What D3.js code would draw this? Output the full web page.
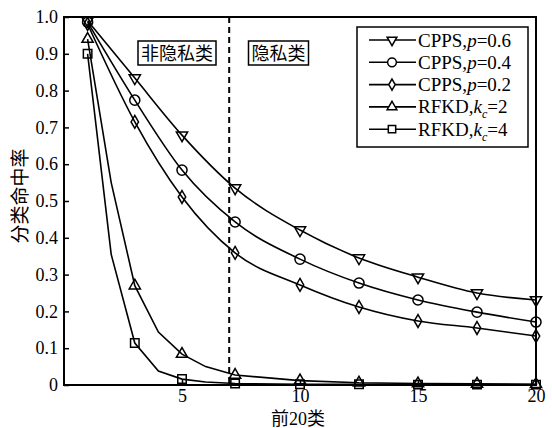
<!DOCTYPE html>
<head>
<meta charset="utf-8">
<title>分类命中率</title>
<script src="https://d3js.org/d3.v7.min.js"></script>
<style>
  body { margin: 0; background: #fff; }
  svg text { font-family: "Liberation Serif", "Times New Roman", "Noto Sans CJK SC", serif; fill: #000; }
</style>
</head>
<body>
<div id="chart"></div>
<script>

  var markX = [1, 3, 5, 7.25, 10, 12.5, 15, 17.5, 20];
  var cpps06 = [0.99, 0.834, 0.679, 0.535, 0.421, 0.345, 0.293, 0.25, 0.231];
  var cpps04 = [0.986, 0.774, 0.584, 0.443, 0.342, 0.277, 0.231, 0.198, 0.171];
  var cpps02 = [0.981, 0.715, 0.511, 0.359, 0.272, 0.212, 0.174, 0.155, 0.133];

  var rfkdX = [1, 2, 3, 4, 5, 6, 7.25, 10, 12.5, 15, 17.5, 20];
  var rfkd2 = [0.94, 0.55, 0.27, 0.144, 0.084, 0.05, 0.027, 0.012, 0.006, 0.004, 0.003, 0.002];
  var rfkd4 = [0.90, 0.355, 0.114, 0.038, 0.016, 0.008, 0.004, 0.002, 0.002, 0.001, 0.001, 0.001];

  var yTicks = [0, 0.1, 0.2, 0.3, 0.4, 0.5, 0.6, 0.7, 0.8, 0.9, 1.0];
  var xTicks = [5, 10, 15, 20];
  var splitX = 7;

  var series = [
    {name: "CPPS,", it: "p", sub: "", rest: "=0.6", xs: markX, ys: cpps06, sym: d3.symbolTriangle, rot: 180, size: 55},
    {name: "CPPS,", it: "p", sub: "", rest: "=0.4", xs: markX, ys: cpps04, sym: d3.symbolCircle, rot: 0, size: 80},
    {name: "CPPS,", it: "p", sub: "", rest: "=0.2", xs: markX, ys: cpps02, sym: d3.symbolDiamond, rot: 0, size: 48},
    {name: "RFKD,", it: "k", sub: "c", rest: "=2", xs: rfkdX, ys: rfkd2, sym: d3.symbolTriangle, rot: 0, size: 55},
    {name: "RFKD,", it: "k", sub: "c", rest: "=4", xs: rfkdX, ys: rfkd4, sym: d3.symbolSquare, rot: 0, size: 72}
  ];

  var W = 552, H = 428;
  var margin = {top: 17, right: 16, bottom: 43, left: 64};
  var serif = "'Liberation Serif', 'Times New Roman', serif";

  var svg = d3.select("#chart")
    .append("svg")
      .attr("width", W)
      .attr("height", H);

  var x = d3.scaleLinear()
    .domain([0, 20])
    .range([margin.left, W - margin.right]);

  var y = d3.scaleLinear()
    .domain([0, 1])
    .range([H - margin.bottom, margin.top]);

  // frame
  svg.append("rect")
    .attr("x", x(0))
    .attr("y", y(1))
    .attr("width", x(20) - x(0))
    .attr("height", y(0) - y(1))
    .style("fill", "none")
    .style("stroke", "#000")
    .style("stroke-width", 2);

  var yAxis = svg.append("g")
    .attr("transform", "translate(" + x(0) + ",0)")
    .call(d3.axisLeft(y)
      .tickValues(yTicks)
      .tickSizeInner(-5)
      .tickSizeOuter(0)
      .tickPadding(6)
      .tickFormat(function(d) { return d === 0 ? "0" : d3.format(".1f")(d); }));

  var xAxis = svg.append("g")
    .attr("transform", "translate(0," + y(0) + ")")
    .call(d3.axisBottom(x)
      .tickValues(xTicks)
      .tickSizeInner(-5)
      .tickSizeOuter(0)
      .tickPadding(4));

  [yAxis, xAxis].forEach(function(g) {
    g.attr("font-family", serif).attr("font-size", 18);
    g.select(".domain").remove();
    g.selectAll(".tick line").style("stroke", "#000").style("stroke-width", 1.5);
    g.selectAll(".tick text")
      .style("font-family", serif)
      .style("font-size", "18px")
      .style("fill", "#000");
  });

  // split line
  svg.append("line")
    .attr("x1", x(splitX))
    .attr("x2", x(splitX))
    .attr("y1", y(1))
    .attr("y2", y(0))
    .style("stroke", "#000")
    .style("stroke-width", 2)
    .style("stroke-dasharray", "6,4");

  var line = d3.line()
    .x(function(d) { return x(d[0]); })
    .y(function(d) { return y(d[1]); });

  series.forEach(function(s, i) {
    var pts = s.xs.map(function(v, j) { return [v, s.ys[j]]; });
    line.curve(i < 3 ? d3.curveMonotoneX : d3.curveLinear);
    svg.append("path")
      .datum(pts)
      .attr("d", line)
      .style("fill", "none")
      .style("stroke", "#000")
      .style("stroke-width", 1.6);

    svg.append("g")
      .selectAll("path")
      .data(pts.filter(function(d) { return markX.indexOf(d[0]) >= 0; }))
      .enter()
      .append("path")
        .attr("d", d3.symbol().type(s.sym).size(s.size))
        .attr("transform", function(d) { return "translate(" + x(d[0]) + "," + y(d[1]) + ") rotate(" + s.rot + ")"; })
        .style("fill", "none")
        .style("stroke", "#000")
        .style("stroke-width", 1.5);
  });

  // region labels
  var regions = [
    {text: "非隐私类", cx: 177},
    {text: "隐私类", cx: 278.5}
  ];
  regions.forEach(function(r) {
    var g = svg.append("g");
    var t = g.append("text")
      .attr("x", r.cx)
      .attr("y", 60)
      .attr("text-anchor", "middle")
      .style("font-family", "'Noto Sans CJK SC'")
      .style("font-size", "18px")
      .text(r.text);
    var b = t.node().getBBox();
    g.insert("rect", "text")
      .attr("x", b.x - 3)
      .attr("y", 41)
      .attr("width", b.width + 6)
      .attr("height", 24)
      .style("fill", "#fff")
      .style("stroke", "#000")
      .style("stroke-width", 1.5);
  });

  // legend
  var legend = svg.append("g");
  legend.append("rect")
    .attr("x", 357)
    .attr("y", 27)
    .attr("width", 171)
    .attr("height", 120)
    .style("fill", "#fff")
    .style("stroke", "#000")
    .style("stroke-width", 1.5);

  series.forEach(function(s, i) {
    var ly = 40 + i * 22.3;
    legend.append("line")
      .attr("x1", 369)
      .attr("x2", 416)
      .attr("y1", ly)
      .attr("y2", ly)
      .style("stroke", "#000")
      .style("stroke-width", 1.6);
    legend.append("path")
      .attr("d", d3.symbol().type(s.sym).size(s.size * 0.75))
      .attr("transform", "translate(392," + ly + ") rotate(" + s.rot + ")")
      .style("fill", "#fff")
      .style("stroke", "#000")
      .style("stroke-width", 1.5);
    var t = legend.append("text")
      .attr("x", 418)
      .attr("y", ly + 6.5)
      .style("font-family", serif)
      .style("font-size", "19px");
    t.append("tspan").text(s.name);
    t.append("tspan").style("font-style", "italic").text(s.it);
    if (s.sub) {
      t.append("tspan").attr("dy", 5).style("font-style", "italic").style("font-size", "12px").text(s.sub);
      t.append("tspan").attr("dy", -5).text(s.rest);
    } else {
      t.append("tspan").text(s.rest);
    }
  });

  // axis titles
  svg.append("text")
    .attr("x", x(10) - 2)
    .attr("y", 425)
    .attr("text-anchor", "middle")
    .style("font-size", "18px")
    .text("前20类");

  svg.append("text")
    .attr("transform", "translate(27,196) rotate(-90)")
    .attr("text-anchor", "middle")
    .style("font-family", "'Noto Sans CJK SC'")
    .style("font-size", "19px")
    .text("分类命中率");

</script>
</body>
